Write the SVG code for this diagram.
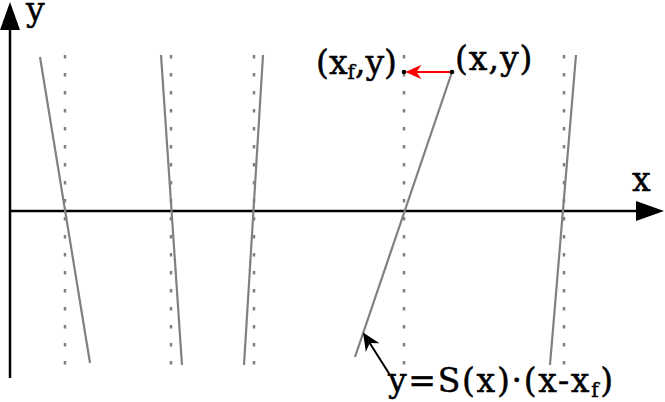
<svg xmlns="http://www.w3.org/2000/svg" width="665" height="402" viewBox="0 0 665 402">
<defs>
<style>
.ax{stroke:#000;stroke-width:2.5;fill:none}
.ln{stroke:#808080;stroke-width:2.2;fill:none}
.dt{stroke:#808080;stroke-width:2.5;stroke-dasharray:3.5 14.5;fill:none}
.t{font-family:"DejaVu Serif","Liberation Serif",serif;font-size:33px;fill:#000;stroke:#000;stroke-width:0.5}
</style>
<marker id="redh" viewBox="0 0 10 10" refX="9" refY="5" markerWidth="8" markerHeight="8" orient="auto" markerUnits="strokeWidth"><path d="M0,0.5 L10,5 L0,9.5 L3,5 Z" fill="#ff0000"/></marker>
<marker id="blkh" viewBox="0 0 10 10" refX="9" refY="5" markerWidth="9" markerHeight="9" orient="auto" markerUnits="strokeWidth"><path d="M0,0.5 L10,5 L0,9.5 L3,5 Z" fill="#000"/></marker>
</defs>
<g id="connectors">
<line class="ax" x1="10" y1="378" x2="10" y2="25"/>
<polygon points="10,2 0,30 20,30" fill="#000"/>
<line class="ax" x1="10" y1="211" x2="640" y2="211"/>
<polygon points="664,211 636,201 636,221" fill="#000"/>
<line class="dt" x1="65" y1="55" x2="65" y2="365"/>
<line class="dt" x1="171" y1="55" x2="171" y2="365"/>
<line class="dt" x1="254" y1="55" x2="254" y2="365"/>
<line class="dt" x1="404" y1="55" x2="404" y2="365"/>
<line class="dt" x1="564" y1="55" x2="564" y2="365"/>
<line class="ln" x1="40" y1="57" x2="90" y2="363"/>
<line class="ln" x1="161" y1="55" x2="182" y2="365"/>
<line class="ln" x1="263" y1="55" x2="244" y2="365"/>
<line class="ln" x1="452" y1="72" x2="355" y2="357"/>
<line class="ln" x1="576" y1="55" x2="550" y2="365"/>
<line x1="450" y1="72" x2="407" y2="72" stroke="#ff0000" stroke-width="2" marker-end="url(#redh)"/>
<circle cx="404" cy="72" r="2.3" fill="#000"/>
<circle cx="452" cy="72" r="2.3" fill="#000"/>
<line x1="390" y1="375" x2="364" y2="334" stroke="#000" stroke-width="2" marker-end="url(#blkh)"/>
</g>
<g id="label-y"><text class="t" x="26" y="21">y</text></g>
<g id="label-x"><text class="t" x="632" y="191">x</text></g>
<g id="label-xfy"><text class="t" x="397" y="74" text-anchor="end">(x<tspan font-size="20" dy="5">f</tspan><tspan dy="-5">,y)</tspan></text></g>
<g id="label-xy"><text class="t" x="455" y="70" letter-spacing="1">(x,y)</text></g>
<g id="label-eq"><text class="t" x="388" y="392" letter-spacing="1.7">y=S(x)·(x-x<tspan font-size="20" dy="5">f</tspan><tspan dy="-5">)</tspan></text></g>
</svg>
